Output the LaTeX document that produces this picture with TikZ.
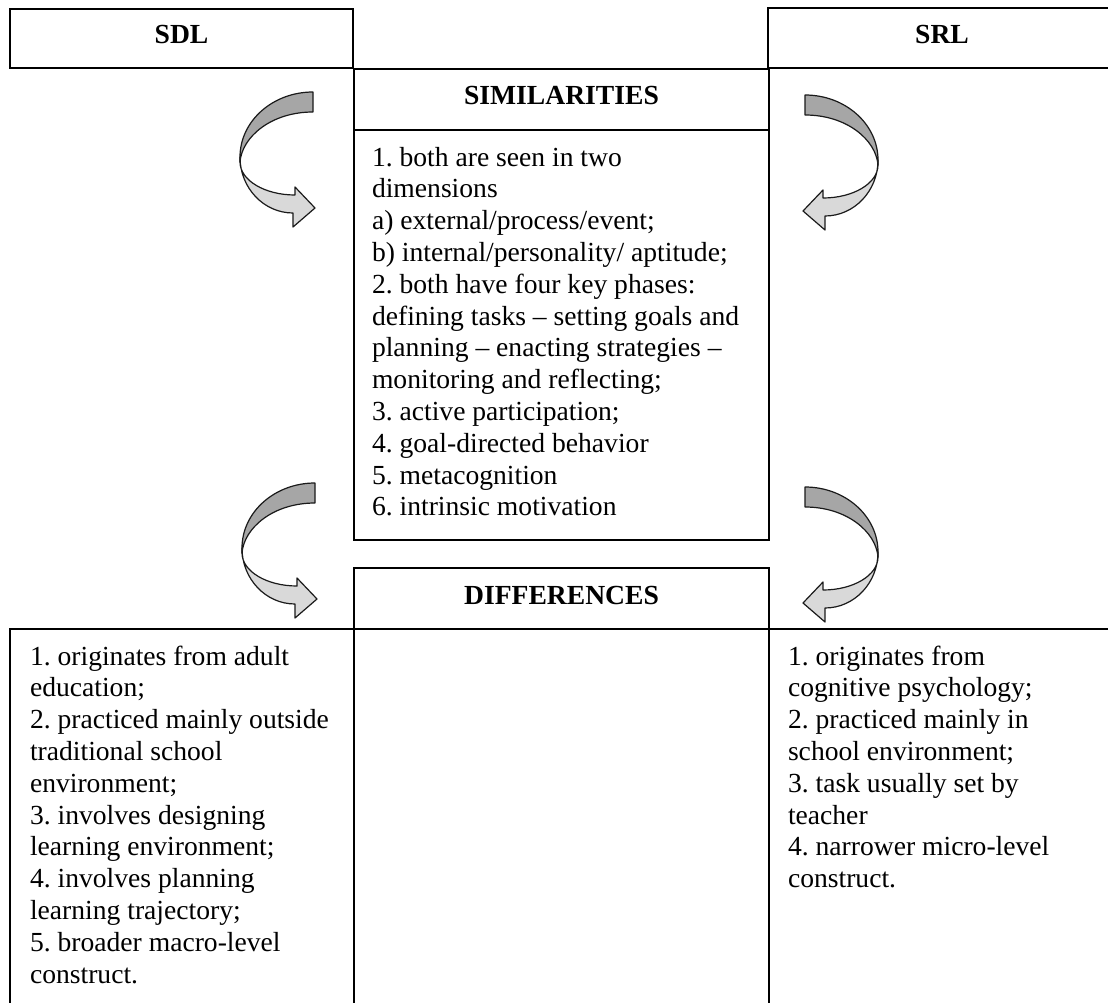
\documentclass[tikz,border=0pt]{standalone}
\usepackage{fontspec}
\setmainfont{Liberation Serif}
\frenchspacing
\definecolor{dkband}{HTML}{A6A6A6}
\definecolor{ltband}{HTML}{D9D9D9}
\definecolor{edgecol}{HTML}{1A1A1A}
\tikzset{
  box/.style={draw=black, line width=1.6pt, inner sep=0pt, outer sep=0pt},
  head/.style={box, font=\fontsize{27.6}{31.8}\selectfont\bfseries, text height=17pt, text depth=6pt},
  body/.style={inner sep=0pt, outer sep=0pt, align=left, anchor=north west, font=\fontsize{27.6}{31.8}\selectfont},
  band/.style={draw=edgecol, line width=1.2pt, line join=round},
}
% #1,#2: top point of the tail; #3: 1 = bends to the left, -1 = bends to the right
\newcommand{\bentarrow}[3]{%
\begin{scope}[shift={(#1,#2)}]
\filldraw[band, fill=dkband] (0,0)
  arc[start angle=90, end angle={90+90*(#3)}, x radius=73, y radius=65]
  -- ({-73*(#3)},-70)
  .. controls ({-71*(#3)},-45) and ({-42*(#3)},-20) .. (0,-20) -- cycle;
\filldraw[band, fill=ltband] ({-73*(#3)},-65)
  arc[start angle={90+90*(#3)}, end angle={90+180*(#3)}, x radius=53, y radius=56]
  -- ({-20*(#3)},-135) -- ({2*(#3)},-116) -- ({-18*(#3)},-95) -- ({-18*(#3)},-103)
  arc[start angle={90+180*(#3)}, end angle={90+90*(#3)}, x radius=55, y radius=33] -- cycle;
\end{scope}}
\begin{document}
\begin{tikzpicture}[x=1pt,y=1pt]
\useasboundingbox (0,0) rectangle (1108,-1003);
\clip (0,0) rectangle (1108,-1003);
\fill[white] (0,0) rectangle (1108,-1003);

\node[head, minimum width=343pt, minimum height=59pt] (sdl) at (181.5,-38.5) {SDL};
\node[head, minimum width=348pt, minimum height=60pt] (srl) at (942,-38) {SRL};
\node[head, minimum width=415pt, minimum height=61pt] (simhead) at (561.5,-99.5) {SIMILARITIES};
\node[box, minimum width=415pt, minimum height=410pt, anchor=north] (simbody) at (simhead.south) {};
\node[head, minimum width=415pt, minimum height=61pt] (diffhead) at (561.5,-598.5) {DIFFERENCES};
\node[box, minimum width=415pt, minimum height=420pt, anchor=north] (diffmid) at (diffhead.south) {};
\node[box, minimum width=344pt, minimum height=420pt, anchor=north east] (sdlbody) at (diffhead.south west) {};
\node[box, minimum width=347pt, minimum height=420pt, anchor=north west] (srlbody) at (diffhead.south east) {};

\node[body] (simtext) at (372,-143.8) {\strut 1. both are seen in two\\
dimensions\\
a) external/process/event;\\
b) internal/personality/ aptitude;\\
2. both have four key phases:\\
defining tasks – setting goals and\\
planning – enacting strategies –\\
monitoring and reflecting;\\
3. active participation;\\
4. goal-directed behavior\\
5. metacognition\\
6. intrinsic motivation};

\node[body] (sdltext) at (30,-642.8) {\strut 1. originates from adult\\
education;\\
2. practiced mainly outside\\
traditional school\\
environment;\\
3. involves designing\\
learning environment;\\
4. involves planning\\
learning trajectory;\\
5. broader macro-level\\
construct.};

\node[body] (srltext) at (788,-642.8) {\strut 1. originates from\\
cognitive psychology;\\
2. practiced mainly in\\
school environment;\\
3. task usually set by\\
teacher\\
4. narrower micro-level\\
construct.};

\bentarrow{313}{-92}{1}
\bentarrow{805}{-95}{-1}
\bentarrow{315}{-483}{1}
\bentarrow{805}{-487}{-1}
\end{tikzpicture}
\end{document}
